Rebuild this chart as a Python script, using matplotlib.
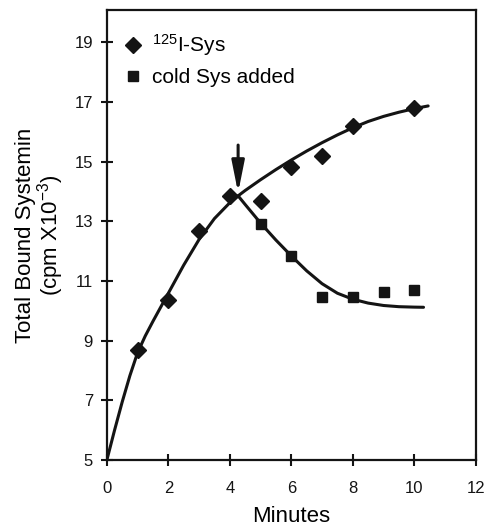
import matplotlib
matplotlib.use('Agg')
import matplotlib.pyplot as plt

plt.rcParams['font.family'] = ['Liberation Sans', 'DejaVu Sans']
plt.rcParams['mathtext.fontset'] = 'custom'
plt.rcParams['mathtext.rm'] = 'Liberation Sans'
plt.rcParams['mathtext.it'] = 'Liberation Sans:italic'
plt.rcParams['mathtext.bf'] = 'Liberation Sans:bold'

# measured points (minutes, cpm x 10^-3)
sys_minutes = [1, 2, 3, 4, 5, 6, 7, 8, 10]
sys_bound = [8.68, 10.36, 12.67, 13.84, 13.67, 14.81, 15.18, 16.19, 16.79]
cold_minutes = [5, 6, 7, 8, 9, 10]
cold_bound = [12.9, 11.85, 10.46, 10.46, 10.63, 10.69]

# drawn curves
rise_minutes = [0, 0.25, 0.5, 0.75, 1, 1.25, 1.5, 2, 2.5, 3, 3.5, 4, 4.27, 4.5,
                5, 5.5, 6, 6.5, 7, 7.5, 8, 8.5, 9, 9.5, 10, 10.45]
rise_bound = [5.0, 6.0, 6.95, 7.83, 8.6, 9.16, 9.65, 10.59, 11.53, 12.39,
              13.09, 13.62, 13.85, 14.03, 14.39, 14.73, 15.05, 15.35, 15.63,
              15.89, 16.13, 16.34, 16.51, 16.65, 16.77, 16.86]
chase_minutes = [4.27, 4.5, 5, 5.5, 6, 6.5, 7, 7.5, 8, 8.5, 9, 9.5, 10, 10.3]
chase_bound = [13.85, 13.56, 12.94, 12.37, 11.84, 11.34, 10.91, 10.59, 10.39,
               10.26, 10.18, 10.14, 10.125, 10.12]

# cold systemin addition
arrow_minute = 4.27
arrow_from, arrow_to = 15.55, 13.95

labels = [r'$^{125}$I-Sys', 'cold Sys added']
x_ticks = [0, 2, 4, 6, 8, 10, 12]
y_ticks = [5, 7, 9, 11, 13, 15, 17, 19]

ink = '#141414'

fig = plt.figure(figsize=(4.9, 5.29), dpi=100)
ax = fig.add_axes([0.218, 0.130, 0.753, 0.851])

ax.plot(rise_minutes, rise_bound, color=ink, lw=2.2, solid_capstyle='round',
        solid_joinstyle='round')
ax.plot(chase_minutes, chase_bound, color=ink, lw=2.2, solid_capstyle='round',
        solid_joinstyle='round')
d, = ax.plot(sys_minutes, sys_bound, 'D', color=ink, markersize=8.5, linestyle='none')
s, = ax.plot(cold_minutes, cold_bound, 's', color=ink, markersize=6.5, linestyle='none')

ax.annotate('', xy=(arrow_minute, arrow_to), xytext=(arrow_minute, arrow_from),
            arrowprops=dict(arrowstyle='-|>,head_length=1.9,head_width=0.38',
                            mutation_scale=10, lw=2.2, color=ink,
                            shrinkA=0, shrinkB=0))

ax.legend([d, s], labels, loc='upper left', bbox_to_anchor=(0.043, 0.95),
          frameon=False, fontsize=15, handlelength=1.0, handletextpad=0.4,
          borderpad=0, borderaxespad=0, labelspacing=0.45)

ax.set_xlim(0, 12)
ax.set_ylim(5, 20.07)
ax.set_xticks(x_ticks)
ax.set_yticks(y_ticks)
ax.tick_params(direction='inout', length=8, width=1.5, labelsize=12, colors=ink)
ax.tick_params(axis='x', pad=11)
ax.tick_params(axis='y', pad=6)
for sp in ax.spines.values():
    sp.set_linewidth(1.6)
    sp.set_color(ink)

ax.set_xlabel('Minutes', fontsize=16, labelpad=7)
ax.set_ylabel('Total Bound Systemin\n(cpm X10$^{-3}$)', fontsize=16, labelpad=6,
              linespacing=0.95)

fig.savefig('out.png', dpi=100)
